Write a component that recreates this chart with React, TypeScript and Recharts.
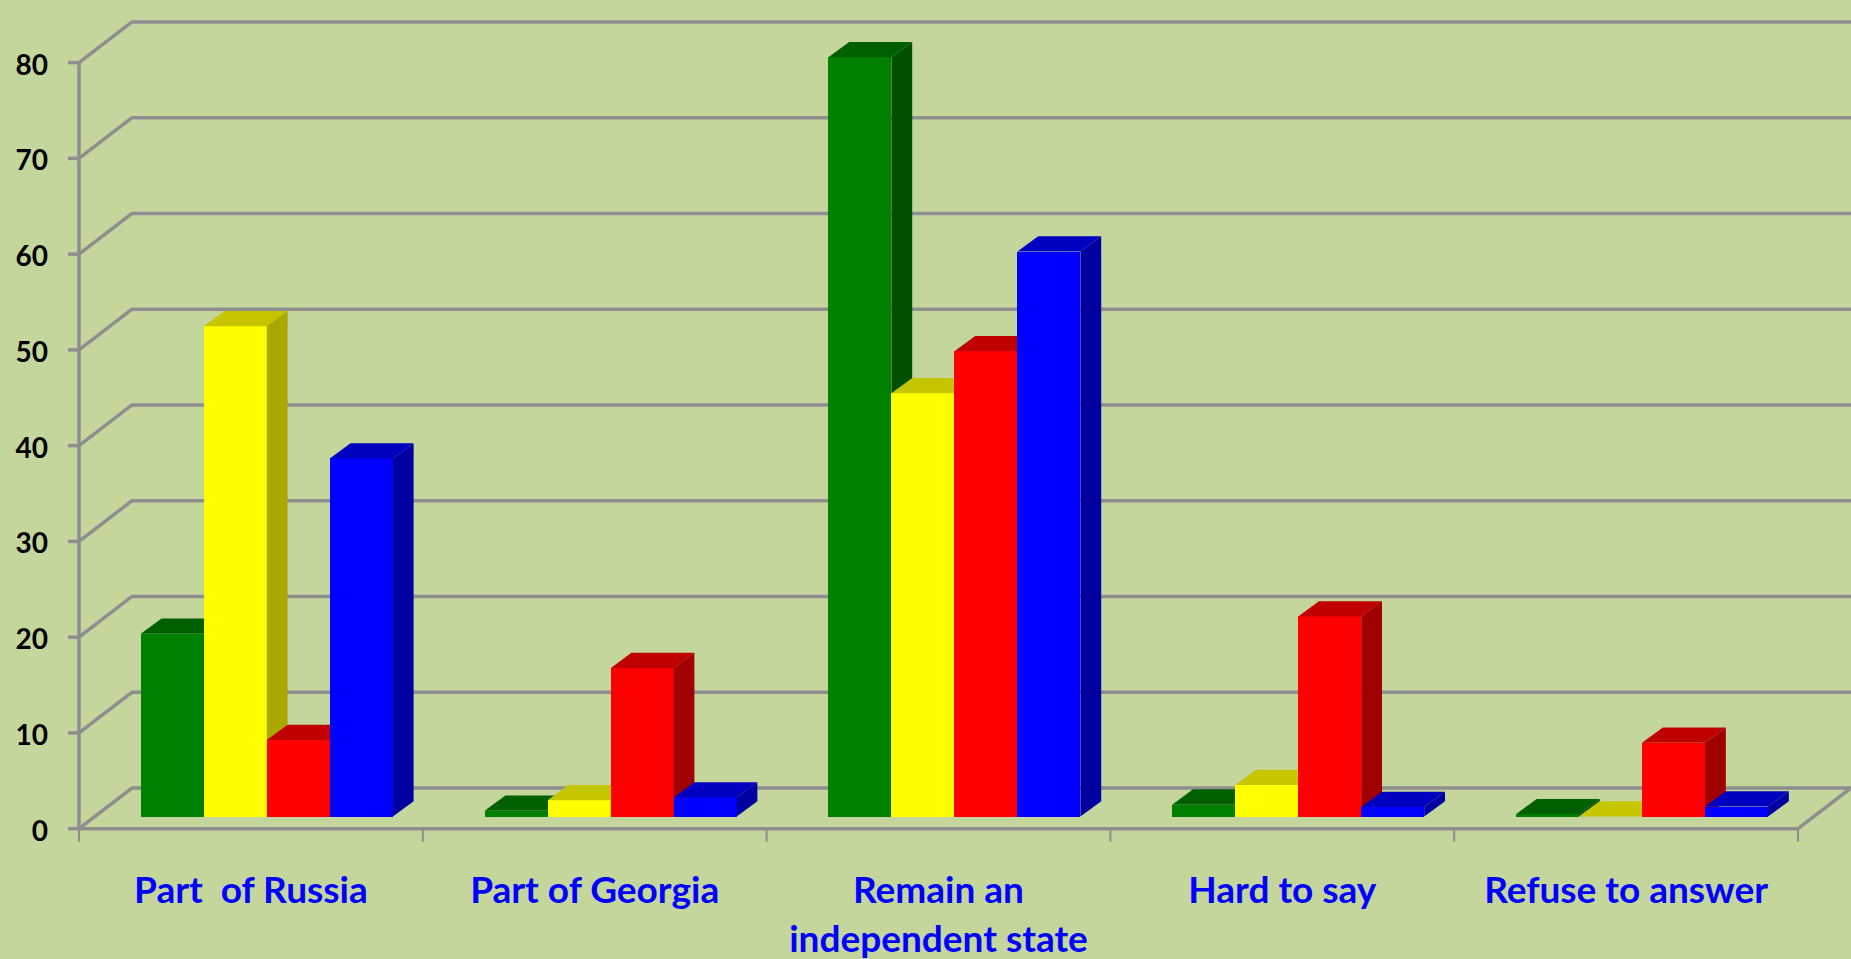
import { Bar, BarChart, CartesianGrid, XAxis, YAxis } from 'recharts';

const categories = ['Part  of Russia', 'Part of Georgia', 'Remain an\nindependent state', 'Hard to say', 'Refuse to answer'];
const greenValues = [19.1, 0.6, 79.3, 1.25, 0.25];
const yellowValues = [51.2, 1.7, 44.2, 3.3, 0];
const redValues = [8.0, 15.5, 48.6, 20.9, 7.7];
const blueValues = [37.4, 2.0, 59.0, 1.0, 1.05];
const yTicks = [0, 10, 20, 30, 40, 50, 60, 70, 80];

const rows = categories.map((name, i) => ({
  name,
  green: greenValues[i],
  yellow: yellowValues[i],
  red: redValues[i],
  blue: blueValues[i],
}));

const BG = '#C4D69C';
const LINE = '#8E8E8E';
const FONT = 'Lato, Carlito, sans-serif';

// oblique offset of the back wall, and of a bar inside the floor
const WALL_DX = 53;
const WALL_DY = 40.7;
const BAR_DX = 15.4;
const BAR_DY = 12.1;
const DEPTH_DX = 20.8;
const DEPTH_DY = 15.3;

function Box3D({ x, y, width, height, front, top, side }: any) {
  const l = x + BAR_DX;
  const r = l + width;
  const t = y - BAR_DY;
  const b = t + height;
  return (
    <g>
      <rect x={l} y={t} width={width} height={height} fill={front} shapeRendering="crispEdges" />
      <polygon points={`${l},${t} ${l + DEPTH_DX},${t - DEPTH_DY} ${r + DEPTH_DX},${t - DEPTH_DY} ${r},${t}`} fill={top} />
      <polygon points={`${r},${t} ${r + DEPTH_DX},${t - DEPTH_DY} ${r + DEPTH_DX},${b - DEPTH_DY} ${r},${b}`} fill={side} />
    </g>
  );
}

// one gridline: runs up the side wall, then along the back wall
function WallLine({ x1, x2, y1, index }: any) {
  const bx = x1 + WALL_DX;
  const by = y1 - WALL_DY;
  return (
    <g stroke={LINE} strokeWidth={3.5} fill="none">
      <polyline points={`${x1},${y1} ${bx},${by} ${x2 + WALL_DX},${by}`} />
      {index === 0 ? <line x1={x2} y1={y1} x2={x2 + WALL_DX} y2={by} /> : null}
    </g>
  );
}

function CategoryTick({ x, y, payload, width, visibleTicksCount, index }: any) {
  const band = width / visibleTicksCount;
  const lines = String(payload.value).split('\n');
  return (
    <g>
      <line x1={x - band / 2} x2={x - band / 2} y1={y} y2={y + 13} stroke={LINE} strokeWidth={2} />
      {index === visibleTicksCount - 1 ? (
        <line x1={x + band / 2} x2={x + band / 2} y1={y} y2={y + 13} stroke={LINE} strokeWidth={2} />
      ) : null}
      {lines.map((line, i) => (
        <text
          key={line}
          x={x}
          y={y + 74 + i * 49}
          textAnchor="middle"
          fill="#0000FF"
          fontFamily={FONT}
          fontWeight={700}
          fontSize={37}
          style={{ whiteSpace: 'pre' }}
        >
          {line}
        </text>
      ))}
    </g>
  );
}

const bars = [
  { key: 'green', front: '#008000', top: '#006000', side: '#005000' },
  { key: 'yellow', front: '#FFFF00', top: '#C6C600', side: '#A8A800' },
  { key: 'red', front: '#FF0000', top: '#C00000', side: '#A00000' },
  { key: 'blue', front: '#0000FF', top: '#0000C0', side: '#0000A0' },
];

export default function App() {
  return (
    <div style={{ position: 'fixed', left: 0, top: 0, width: 1851, height: 959, background: BG, overflow: 'hidden' }}>
      <BarChart
        width={1851}
        height={959}
        data={rows}
        margin={{ top: 62.6, right: 53, bottom: 0, left: 0 }}
        barGap={0}
        barCategoryGap={46.4}
      >
        <CartesianGrid vertical={false} horizontal={(p: any) => <WallLine key={p.key} {...p} />} />
        <XAxis
          dataKey="name"
          height={130.3}
          interval={0}
          stroke={LINE}
          strokeWidth={3.5}
          tickLine={false}
          tickSize={0}
          tickMargin={0}
          tick={(p: any) => <CategoryTick {...p} />}
        />
        <YAxis
          domain={[0, 80]}
          ticks={yTicks}
          width={79}
          interval={0}
          stroke={LINE}
          strokeWidth={3.5}
          tickSize={11}
          tickMargin={20}
          tick={{ fill: '#000000', fontFamily: FONT, fontWeight: 700, fontSize: 28, dy: 2 }}
        />
        {bars.map((s) => (
          <Bar
            key={s.key}
            dataKey={s.key}
            fill={s.front}
            isAnimationActive={false}
            shape={(p: any) => <Box3D {...p} front={s.front} top={s.top} side={s.side} />}
          />
        ))}
      </BarChart>
    </div>
  );
}
